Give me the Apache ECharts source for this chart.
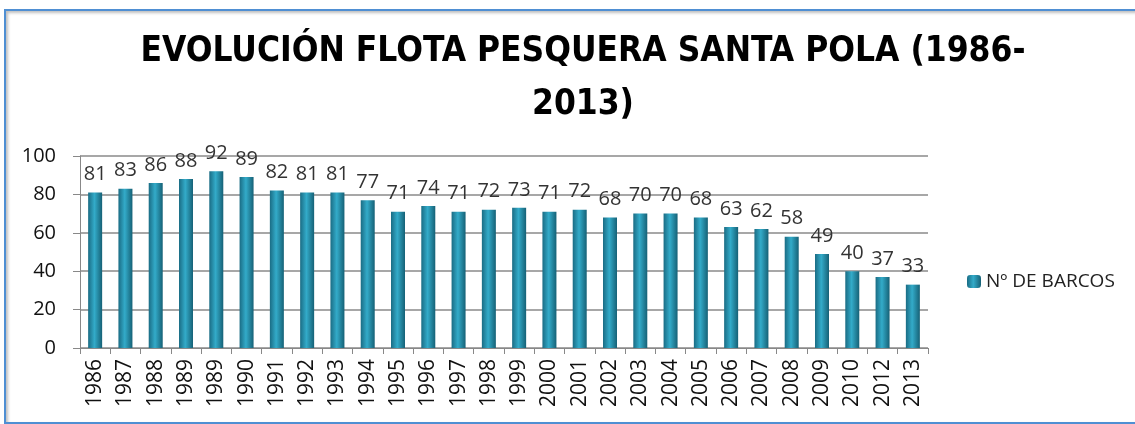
<!DOCTYPE html>
<html>
<head>
<meta charset="utf-8">
<script src="https://cdn.jsdelivr.net/npm/echarts@6/dist/echarts.min.js"></script>
<style>
html,body{margin:0;padding:0;background:#fff;overflow:hidden;}
#chart{position:absolute;left:0;top:0;width:1135px;height:424px;}
#frame{position:absolute;left:4px;top:9px;width:1140px;height:411px;border:2px solid #4F8FD3;box-shadow:inset 2px 2px 3px rgba(0,0,0,0.25);pointer-events:none;}
</style>
</head>
<body>
<div id="chart"></div>
<div id="frame"></div>
<script>
const categories = ['1986','1987','1988','1989','1989','1990','1991','1992','1993','1994','1995','1996','1997','1998','1999','2000','2001','2002','2003','2004','2005','2006','2007','2008','2009','2010','2012','2013'];
const barcos = [81,83,86,88,92,89,82,81,81,77,71,74,71,72,73,71,72,68,70,70,68,63,62,58,49,40,37,33];
const yTicks = [0,20,40,60,80,100];
const seriesName = 'Nº DE BARCOS';
const titleText = 'EVOLUCIÓN FLOTA PESQUERA SANTA POLA (1986-\n2013)';

const chart = echarts.init(document.getElementById('chart'));
const barGrad = new echarts.graphic.LinearGradient(0,0,1,0,[
  {offset:0,color:'#1A6C84'},
  {offset:0.45,color:'#33ABC9'},
  {offset:1,color:'#166176'}
]);
chart.setOption({
  animation:false,
  title:{
    text:titleText,
    left:578,
    textAlign:'center',
    top:20,
    textStyle:{fontFamily:'DejaVu Sans Condensed',fontWeight:'bold',fontSize:35,color:'#000',lineHeight:53}
  },
  legend:{
    data:[seriesName],
    left:962,
    top:267,
    itemWidth:14,
    itemHeight:13,
    itemGap:6,
    textStyle:{fontFamily:'Open Sans',fontSize:19,color:'#222'}
  },
  grid:{left:80,right:207,top:156,bottom:76},
  xAxis:{
    type:'category',
    data:categories,
    axisLine:{lineStyle:{color:'#888',width:1}},
    axisTick:{show:true,length:6,lineStyle:{color:'#888'}},
    axisLabel:{rotate:90,fontFamily:'Open Sans',fontSize:21,color:'#111',margin:11,interval:0}
  },
  yAxis:{
    type:'value',
    min:yTicks[0],
    max:yTicks[yTicks.length-1],
    interval:20,
    axisLine:{show:true,lineStyle:{color:'#888'}},
    axisTick:{show:true,length:7,lineStyle:{color:'#888'}},
    splitLine:{lineStyle:{color:'#8a8a8a',width:1.5}},
    axisLabel:{fontFamily:'Open Sans',fontSize:20,color:'#111',margin:24}
  },
  series:[{
    name:seriesName,
    type:'bar',
    data:barcos,
    barWidth:14,
    itemStyle:{color:barGrad},
    label:{show:true,position:'top',distance:8,fontFamily:'Open Sans',fontSize:20,color:'#333'}
  }]
});
</script>
</body>
</html>
